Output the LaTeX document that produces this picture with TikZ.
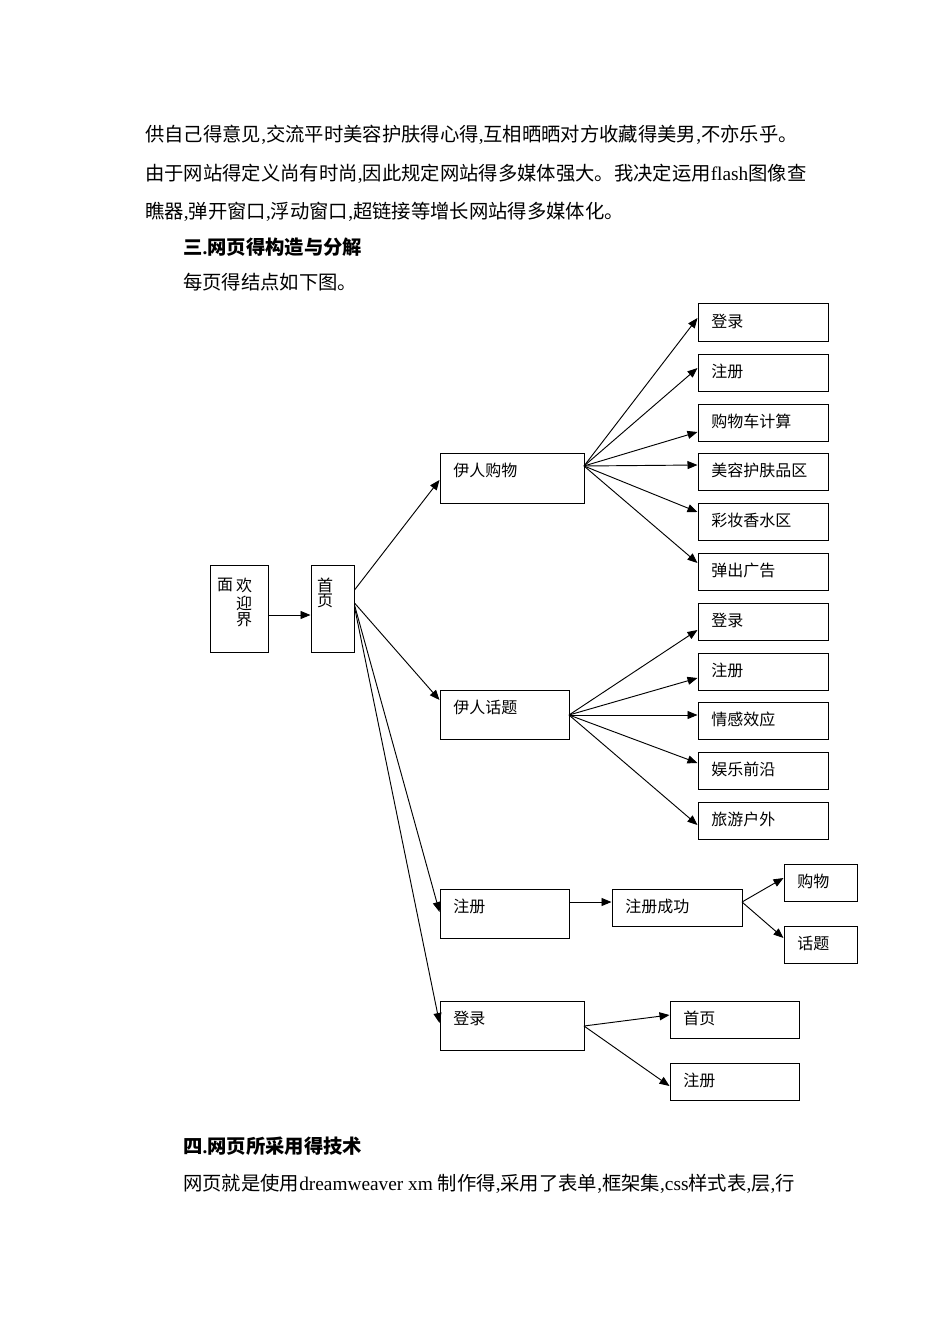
\documentclass[tikz,border=0pt]{standalone}
\usepackage{fontspec}
\setmainfont{Liberation Serif}
\newfontfamily\cjk{Noto Sans CJK SC}
\usetikzlibrary{arrows.meta}
\newcommand\zh[1]{{\cjk #1}}
\newcommand\bx[6]{%
  \node[boxst, minimum width={(#4-#2)*0.75pt}, minimum height={(#5-#3)*0.75pt}] (#1) at ({(#2+#4)/2},{(#3+#5)/2}) {};
  \node[lbl, anchor=west] (#1-t) at ({#2+13},{#3+17}) {#6};}
\begin{document}
\begin{tikzpicture}[x=0.75pt,y=-0.75pt,
  boxst/.style={draw=black, line width=0.75pt, inner sep=0pt, rectangle},
  lbl/.style={inner sep=0pt, font=\cjk\fontsize{12pt}{14pt}\selectfont},
  body/.style={inner sep=0pt, anchor=west, font=\fontsize{14.5pt}{17pt}\selectfont},
  arr/.style={line width=0.7pt, -{Triangle[length=7.5pt,width=6pt]}}]
\useasboundingbox[fill=white] (0,0) rectangle (950,1344);
% body text
\node[body] (p1) at (145,135) {\zh{供自己得意见},\zh{交流平时美容护肤得心得},\zh{互相晒晒对方收藏得美男},\zh{不亦乐乎。}};
\node[body] (p2) at (145,174) {\zh{由于网站得定义尚有时尚},\zh{因此规定网站得多媒体强大。我决定运用}flash\zh{图像查}};
\node[body] (p3) at (145,212) {\zh{瞧器},\zh{弹开窗口},\zh{浮动窗口},\zh{超链接等增长网站得多媒体化。}};
\node[body] (h3) at (183,247) {\bfseries\zh{\bfseries 三}.\zh{\bfseries 网页得构造与分解}};
\node[body] (p4) at (183,282) {\zh{每页得结点如下图。}};
\node[body] (h4) at (183,1146) {\bfseries\zh{\bfseries 四}.\zh{\bfseries 网页所采用得技术}};
\node[body] (p5) at (183,1184) {\zh{网页就是使用}dreamweaver xm \zh{制作得},\zh{采用了表单},\zh{框架集},css\zh{样式表},\zh{层},\zh{行}};
% boxes
\node[boxst, minimum width={58*0.75pt}, minimum height={87*0.75pt}] (welcome) at (239,608.5) {};
\node[lbl] (w1) at (225,585) {面};
\node[lbl] (w2) at (244,585) {欢};
\node[lbl] (w3) at (244,603) {迎};
\node[lbl] (w4) at (244,620) {界};
\node[boxst, minimum width={43*0.75pt}, minimum height={87*0.75pt}] (home) at (332.5,608.5) {};
\node[lbl] (h1) at (325,585) {首};
\node[lbl] (h2) at (325,601) {页};
\bx{shop}{440}{453}{584}{503}{伊人购物}
\bx{topic}{440}{690}{569}{739}{伊人话题}
\bx{reg}{440}{889}{569}{938}{注册}
\bx{login}{440}{1001}{584}{1050}{登录}
\bx{s1}{698}{304}{828}{341}{登录}
\bx{s2}{698}{354}{828}{391}{注册}
\bx{s3}{698}{404}{828}{441}{购物车计算}
\bx{s4}{698}{453}{828}{490}{美容护肤品区}
\bx{s5}{698}{503}{828}{540}{彩妆香水区}
\bx{s6}{698}{553}{828}{590}{弹出广告}
\bx{t1}{698}{603}{828}{640}{登录}
\bx{t2}{698}{653}{828}{690}{注册}
\bx{t3}{698}{702}{828}{739}{情感效应}
\bx{t4}{698}{752}{828}{789}{娱乐前沿}
\bx{t5}{698}{802}{828}{839}{旅游户外}
\bx{ok}{612}{889}{742}{926}{注册成功}
\bx{r1}{784}{864}{857}{901}{购物}
\bx{r2}{784}{926}{857}{963}{话题}
\bx{l1}{670}{1001}{799}{1038}{首页}
\bx{l2}{670}{1063}{799}{1100}{注册}
% connectors
\draw[arr] (welcome.east |- 0,615) -- (home.west |- 0,615);
\draw[arr] (home.east |- 0,590) -- (shop.west |- 0,480);
\draw[arr] (home.east |- 0,603) -- (topic.west |- 0,700);
\draw[arr] (home.east |- 0,605) -- (reg.west |- 0,912);
\draw[arr] (home.east |- 0,607) -- (login.west |- 0,1023);
\coordinate (so) at (584,466);
\draw[arr] (so) -- (s1.west |- 0,318);
\draw[arr] (so) -- (s2.west |- 0,368);
\draw[arr] (so) -- (s3.west |- 0,432);
\draw[arr] (so) -- (s4.west |- 0,465);
\draw[arr] (so) -- (s5.west |- 0,512);
\draw[arr] (so) -- (s6.west |- 0,563);
\coordinate (to) at (569,715);
\draw[arr] (to) -- (t1.west |- 0,630);
\draw[arr] (to) -- (t2.west |- 0,678);
\draw[arr] (to) -- (t3.west |- 0,715);
\draw[arr] (to) -- (t4.west |- 0,763);
\draw[arr] (to) -- (t5.west |- 0,825);
\draw[arr] (reg.east |- 0,902) -- (ok.west |- 0,902);
\coordinate (oo) at (742,902);
\draw[arr] (oo) -- (r1.west |- 0,878);
\draw[arr] (oo) -- (r2.west |- 0,938);
\coordinate (lo) at (584,1026);
\draw[arr] (lo) -- (l1.west |- 0,1015);
\draw[arr] (lo) -- (l2.west |- 0,1086);
\end{tikzpicture}
\end{document}
